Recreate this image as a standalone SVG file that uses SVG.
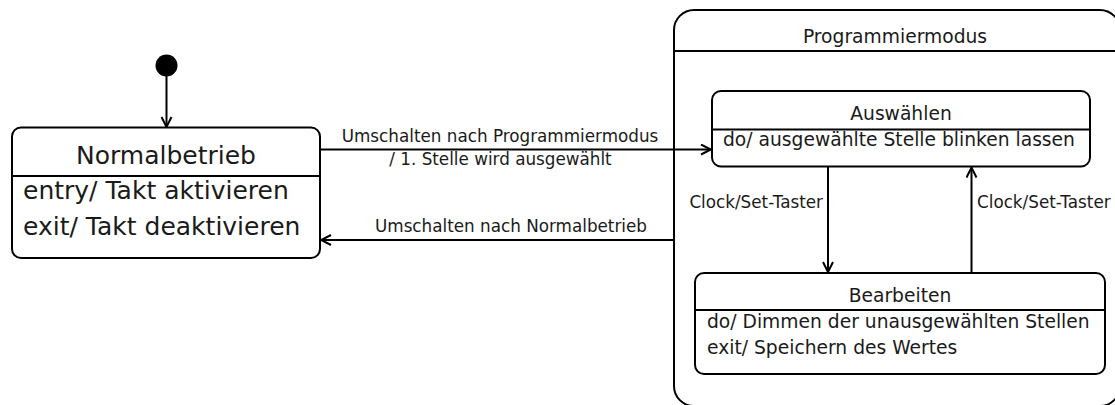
<svg xmlns="http://www.w3.org/2000/svg" width="1115" height="405" viewBox="0 0 1115 405">
  <style>
    .box { fill: #ffffff; stroke: #000000; stroke-width: 2; }
    .div { stroke: #000000; stroke-width: 2; }
    .edge { fill: none; stroke: #000000; stroke-width: 2; }
    text { font-family: "DejaVu Sans", "Liberation Sans", sans-serif; fill: #1a1a1a; }
    .big { font-size: 25px; }
    .mid { font-size: 18.7px; }
    .lbl { font-size: 16.8px; }
  </style>
  <defs>
    <marker id="open" viewBox="0 0 12 12" refX="11" refY="6" markerWidth="12" markerHeight="12" markerUnits="userSpaceOnUse" orient="auto">
      <path d="M1,1 L11,6 L1,11" fill="none" stroke="#000" stroke-width="2"/>
    </marker>
  </defs>

  <rect width="1115" height="405" fill="#ffffff"/>

  <!-- initial pseudostate -->
  <g id="initial">
    <circle cx="166.5" cy="65.5" r="11" fill="#000"/>
  </g>

  <!-- Normalbetrieb -->
  <g id="normalbetrieb">
    <rect class="box" x="12" y="127.5" width="308" height="130.5" rx="9"/>
    <line class="div" x1="12" y1="176" x2="320" y2="176"/>
    <text class="big" x="166" y="164" text-anchor="middle">Normalbetrieb</text>
    <text class="big" x="23" y="199">entry/ Takt aktivieren</text>
    <text class="big" x="23" y="235">exit/ Takt deaktivieren</text>
  </g>

  <!-- Programmiermodus (composite state) -->
  <g id="programmiermodus">
    <rect class="box" x="674" y="10" width="446" height="396" rx="20"/>
    <line class="div" x1="674" y1="51" x2="1120" y2="51"/>
    <text class="mid" x="895" y="42.5" text-anchor="middle">Programmiermodus</text>
  </g>

  <!-- Auswählen -->
  <g id="auswaehlen">
    <rect class="box" x="712" y="91" width="378" height="75.5" rx="9"/>
    <line class="div" x1="712" y1="129.5" x2="1090" y2="129.5"/>
    <text class="mid" x="901" y="120" text-anchor="middle">Auswählen</text>
    <text class="mid" x="723" y="146">do/ ausgewählte Stelle blinken lassen</text>
  </g>

  <!-- Bearbeiten -->
  <g id="bearbeiten">
    <rect class="box" x="695" y="273" width="410" height="101" rx="9"/>
    <line class="div" x1="695" y1="310" x2="1105" y2="310"/>
    <text class="mid" x="900" y="302" text-anchor="middle">Bearbeiten</text>
    <text class="mid" x="707" y="327.5">do/ Dimmen der unausgewählten Stellen</text>
    <text class="mid" x="707" y="354">exit/ Speichern des Wertes</text>
  </g>

  <!-- transitions -->
  <g id="connectors">
    <line class="edge" x1="166.5" y1="76" x2="166.5" y2="127" marker-end="url(#open)"/>
    <line class="edge" x1="320" y1="149.5" x2="711" y2="149.5" marker-end="url(#open)"/>
    <line class="edge" x1="674" y1="240" x2="321" y2="240" marker-end="url(#open)"/>
    <line class="edge" x1="828" y1="166.5" x2="828" y2="272" marker-end="url(#open)"/>
    <line class="edge" x1="971.5" y1="273" x2="971.5" y2="167.5" marker-end="url(#open)"/>

    <text class="lbl" x="500" y="142" text-anchor="middle">Umschalten nach Programmiermodus</text>
    <text class="lbl" x="500.5" y="165" text-anchor="middle">/ 1. Stelle wird ausgewählt</text>
    <text class="lbl" x="511" y="231.5" text-anchor="middle">Umschalten nach Normalbetrieb</text>
    <text class="lbl" x="823" y="207.5" text-anchor="end">Clock/Set-Taster</text>
    <text class="lbl" x="977" y="207.5">Clock/Set-Taster</text>
  </g>
</svg>
